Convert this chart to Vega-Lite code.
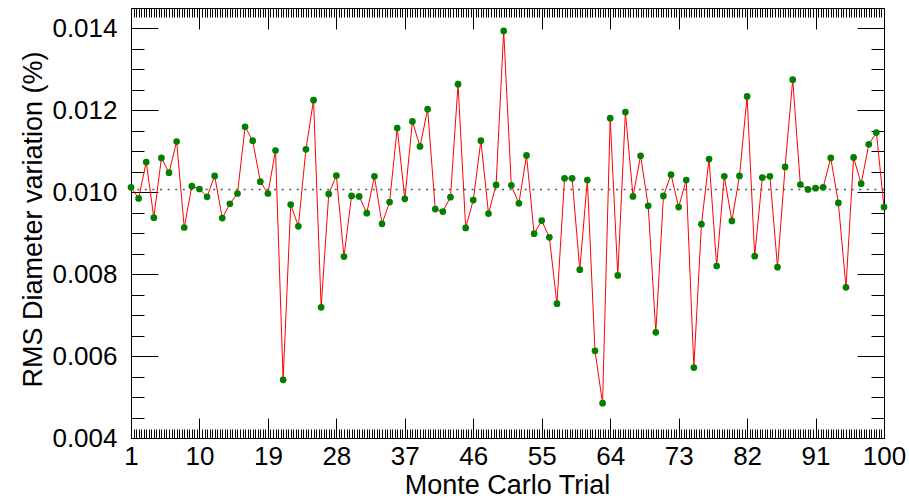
{
  "$schema": "https://vega.github.io/schema/vega-lite/v6.json",
  "width": 753,
  "height": 430,
  "autosize": {"type": "none"},
  "padding": {"left": 131, "top": 8, "right": 25, "bottom": 61},
  "background": "white",
  "config": {
    "view": {"stroke": "black", "strokeWidth": 1},
    "axis": {
      "grid": false,
      "domainColor": "black",
      "domainWidth": 1,
      "tickColor": "black",
      "tickWidth": 1,
      "labelFont": "Liberation Sans",
      "titleFont": "Liberation Sans",
      "labelColor": "black",
      "titleColor": "black",
      "labelFontSize": 26,
      "titleFontSize": 27,
      "titleFontWeight": "normal",
      "labelOverlap": false,
      "labelFlush": false,
      "labelBound": false
    }
  },
  "datasets": {
    "trials": [
      {"trial": 1, "rms": 0.01012}, {"trial": 2, "rms": 0.00985}, {"trial": 3, "rms": 0.01074}, {"trial": 4, "rms": 0.00938}, {"trial": 5, "rms": 0.01084},
      {"trial": 6, "rms": 0.01048}, {"trial": 7, "rms": 0.01124}, {"trial": 8, "rms": 0.00914}, {"trial": 9, "rms": 0.01015}, {"trial": 10, "rms": 0.01008},
      {"trial": 11, "rms": 0.00989}, {"trial": 12, "rms": 0.01040}, {"trial": 13, "rms": 0.00937}, {"trial": 14, "rms": 0.00972}, {"trial": 15, "rms": 0.00997},
      {"trial": 16, "rms": 0.01160}, {"trial": 17, "rms": 0.01126}, {"trial": 18, "rms": 0.01026}, {"trial": 19, "rms": 0.00997}, {"trial": 20, "rms": 0.01102},
      {"trial": 21, "rms": 0.00542}, {"trial": 22, "rms": 0.00970}, {"trial": 23, "rms": 0.00917}, {"trial": 24, "rms": 0.01105}, {"trial": 25, "rms": 0.01225},
      {"trial": 26, "rms": 0.00719}, {"trial": 27, "rms": 0.00996}, {"trial": 28, "rms": 0.01041}, {"trial": 29, "rms": 0.00843}, {"trial": 30, "rms": 0.00991},
      {"trial": 31, "rms": 0.00990}, {"trial": 32, "rms": 0.00949}, {"trial": 33, "rms": 0.01039}, {"trial": 34, "rms": 0.00923}, {"trial": 35, "rms": 0.00976},
      {"trial": 36, "rms": 0.01157}, {"trial": 37, "rms": 0.00984}, {"trial": 38, "rms": 0.01173}, {"trial": 39, "rms": 0.01112}, {"trial": 40, "rms": 0.01203},
      {"trial": 41, "rms": 0.00959}, {"trial": 42, "rms": 0.00953}, {"trial": 43, "rms": 0.00988}, {"trial": 44, "rms": 0.01264}, {"trial": 45, "rms": 0.00913},
      {"trial": 46, "rms": 0.00981}, {"trial": 47, "rms": 0.01126}, {"trial": 48, "rms": 0.00948}, {"trial": 49, "rms": 0.01018}, {"trial": 50, "rms": 0.01394},
      {"trial": 51, "rms": 0.01017}, {"trial": 52, "rms": 0.00973}, {"trial": 53, "rms": 0.01090}, {"trial": 54, "rms": 0.00899}, {"trial": 55, "rms": 0.00931},
      {"trial": 56, "rms": 0.00890}, {"trial": 57, "rms": 0.00728}, {"trial": 58, "rms": 0.01034}, {"trial": 59, "rms": 0.01034}, {"trial": 60, "rms": 0.00811},
      {"trial": 61, "rms": 0.01030}, {"trial": 62, "rms": 0.00613}, {"trial": 63, "rms": 0.00485}, {"trial": 64, "rms": 0.01181}, {"trial": 65, "rms": 0.00797},
      {"trial": 66, "rms": 0.01196}, {"trial": 67, "rms": 0.00990}, {"trial": 68, "rms": 0.01089}, {"trial": 69, "rms": 0.00967}, {"trial": 70, "rms": 0.00658},
      {"trial": 71, "rms": 0.00991}, {"trial": 72, "rms": 0.01043}, {"trial": 73, "rms": 0.00964}, {"trial": 74, "rms": 0.01030}, {"trial": 75, "rms": 0.00572},
      {"trial": 76, "rms": 0.00922}, {"trial": 77, "rms": 0.01081}, {"trial": 78, "rms": 0.00820}, {"trial": 79, "rms": 0.01039}, {"trial": 80, "rms": 0.00930},
      {"trial": 81, "rms": 0.01040}, {"trial": 82, "rms": 0.01234}, {"trial": 83, "rms": 0.00844}, {"trial": 84, "rms": 0.01036}, {"trial": 85, "rms": 0.01039},
      {"trial": 86, "rms": 0.00817}, {"trial": 87, "rms": 0.01062}, {"trial": 88, "rms": 0.01275}, {"trial": 89, "rms": 0.01019}, {"trial": 90, "rms": 0.01007},
      {"trial": 91, "rms": 0.01010}, {"trial": 92, "rms": 0.01012}, {"trial": 93, "rms": 0.01084}, {"trial": 94, "rms": 0.00974}, {"trial": 95, "rms": 0.00768},
      {"trial": 96, "rms": 0.01085}, {"trial": 97, "rms": 0.01021}, {"trial": 98, "rms": 0.01117}, {"trial": 99, "rms": 0.01146}, {"trial": 100, "rms": 0.00964}
    ],
    "reference": [{"mean": 0.01007}]
  },
  "layer": [
    {
      "data": {"name": "reference"},
      "mark": {"type": "rule", "color": "#555555", "strokeWidth": 1.5, "strokeDash": [2, 5.6]},
      "encoding": {
        "y": {"field": "mean", "type": "quantitative", "axis": null,
              "scale": {"domain": [0.004, 0.0145], "nice": false, "zero": false}}
      }
    },
    {
      "data": {"name": "trials"},
      "mark": {"type": "line", "color": "#ff0000", "strokeWidth": 1},
      "encoding": {
        "x": {
          "field": "trial", "type": "quantitative",
          "scale": {"domain": [1, 100], "nice": false, "zero": false},
          "axis": {
            "orient": "bottom",
            "values": [1,1.333,1.667,2,2.333,2.667,3,3.333,3.667,4,4.333,4.667,5,5.333,5.667,6,6.333,6.667,7,7.333,7.667,8,8.333,8.667,9,9.333,9.667,10,10.333,10.667,11,11.333,11.667,12,12.333,12.667,13,13.333,13.667,14,14.333,14.667,15,15.333,15.667,16,16.333,16.667,17,17.333,17.667,18,18.333,18.667,19,19.333,19.667,20,20.333,20.667,21,21.333,21.667,22,22.333,22.667,23,23.333,23.667,24,24.333,24.667,25,25.333,25.667,26,26.333,26.667,27,27.333,27.667,28,28.333,28.667,29,29.333,29.667,30,30.333,30.667,31,31.333,31.667,32,32.333,32.667,33,33.333,33.667,34,34.333,34.667,35,35.333,35.667,36,36.333,36.667,37,37.333,37.667,38,38.333,38.667,39,39.333,39.667,40,40.333,40.667,41,41.333,41.667,42,42.333,42.667,43,43.333,43.667,44,44.333,44.667,45,45.333,45.667,46,46.333,46.667,47,47.333,47.667,48,48.333,48.667,49,49.333,49.667,50,50.333,50.667,51,51.333,51.667,52,52.333,52.667,53,53.333,53.667,54,54.333,54.667,55,55.333,55.667,56,56.333,56.667,57,57.333,57.667,58,58.333,58.667,59,59.333,59.667,60,60.333,60.667,61,61.333,61.667,62,62.333,62.667,63,63.333,63.667,64,64.333,64.667,65,65.333,65.667,66,66.333,66.667,67,67.333,67.667,68,68.333,68.667,69,69.333,69.667,70,70.333,70.667,71,71.333,71.667,72,72.333,72.667,73,73.333,73.667,74,74.333,74.667,75,75.333,75.667,76,76.333,76.667,77,77.333,77.667,78,78.333,78.667,79,79.333,79.667,80,80.333,80.667,81,81.333,81.667,82,82.333,82.667,83,83.333,83.667,84,84.333,84.667,85,85.333,85.667,86,86.333,86.667,87,87.333,87.667,88,88.333,88.667,89,89.333,89.667,90,90.333,90.667,91,91.333,91.667,92,92.333,92.667,93,93.333,93.667,94,94.333,94.667,95,95.333,95.667,96,96.333,96.667,97,97.333,97.667,98,98.333,98.667,99,99.333,99.667,100],
            "tickSize": {"condition": {"test": "abs((datum.value - 1) / 9 - round((datum.value - 1) / 9)) < 0.001", "value": -20}, "value": -9},
            "labelExpr": "abs((datum.value - 1) / 9 - round((datum.value - 1) / 9)) < 0.001 ? format(datum.value, 'd') : ''",
            "labelPadding": 25,
            "title": "Monte Carlo Trial",
            "titleX": 376,
            "titleY": 55,
            "titleAlign": "center",
            "titleBaseline": "alphabetic"
          }
        },
        "y": {
          "field": "rms", "type": "quantitative",
          "scale": {"domain": [0.004, 0.0145], "nice": false, "zero": false},
          "axis": {
            "orient": "left",
            "values": [0.004,0.0045,0.005,0.0055,0.006,0.0065,0.007,0.0075,0.008,0.0085,0.009,0.0095,0.01,0.0105,0.011,0.0115,0.012,0.0125,0.013,0.0135,0.014,0.0145],
            "tickSize": {"condition": {"test": "abs(datum.value * 500 - round(datum.value * 500)) < 0.001", "value": -27}, "value": -13},
            "labelExpr": "abs(datum.value * 500 - round(datum.value * 500)) < 0.001 ? format(datum.value, '.3f') : ''",
            "labelPadding": 41,
            "title": "RMS Diameter variation (%)",
            "titleX": -90,
            "titleY": 211,
            "titleAngle": -90,
            "titleAlign": "center",
            "titleBaseline": "alphabetic"
          }
        }
      }
    },
    {
      "data": {"name": "trials"},
      "mark": {"type": "circle", "color": "#008000", "opacity": 1, "size": 45},
      "encoding": {
        "x": {
          "field": "trial", "type": "quantitative",
          "scale": {"domain": [1, 100], "nice": false, "zero": false},
          "axis": {
            "orient": "top",
            "values": [1,1.333,1.667,2,2.333,2.667,3,3.333,3.667,4,4.333,4.667,5,5.333,5.667,6,6.333,6.667,7,7.333,7.667,8,8.333,8.667,9,9.333,9.667,10,10.333,10.667,11,11.333,11.667,12,12.333,12.667,13,13.333,13.667,14,14.333,14.667,15,15.333,15.667,16,16.333,16.667,17,17.333,17.667,18,18.333,18.667,19,19.333,19.667,20,20.333,20.667,21,21.333,21.667,22,22.333,22.667,23,23.333,23.667,24,24.333,24.667,25,25.333,25.667,26,26.333,26.667,27,27.333,27.667,28,28.333,28.667,29,29.333,29.667,30,30.333,30.667,31,31.333,31.667,32,32.333,32.667,33,33.333,33.667,34,34.333,34.667,35,35.333,35.667,36,36.333,36.667,37,37.333,37.667,38,38.333,38.667,39,39.333,39.667,40,40.333,40.667,41,41.333,41.667,42,42.333,42.667,43,43.333,43.667,44,44.333,44.667,45,45.333,45.667,46,46.333,46.667,47,47.333,47.667,48,48.333,48.667,49,49.333,49.667,50,50.333,50.667,51,51.333,51.667,52,52.333,52.667,53,53.333,53.667,54,54.333,54.667,55,55.333,55.667,56,56.333,56.667,57,57.333,57.667,58,58.333,58.667,59,59.333,59.667,60,60.333,60.667,61,61.333,61.667,62,62.333,62.667,63,63.333,63.667,64,64.333,64.667,65,65.333,65.667,66,66.333,66.667,67,67.333,67.667,68,68.333,68.667,69,69.333,69.667,70,70.333,70.667,71,71.333,71.667,72,72.333,72.667,73,73.333,73.667,74,74.333,74.667,75,75.333,75.667,76,76.333,76.667,77,77.333,77.667,78,78.333,78.667,79,79.333,79.667,80,80.333,80.667,81,81.333,81.667,82,82.333,82.667,83,83.333,83.667,84,84.333,84.667,85,85.333,85.667,86,86.333,86.667,87,87.333,87.667,88,88.333,88.667,89,89.333,89.667,90,90.333,90.667,91,91.333,91.667,92,92.333,92.667,93,93.333,93.667,94,94.333,94.667,95,95.333,95.667,96,96.333,96.667,97,97.333,97.667,98,98.333,98.667,99,99.333,99.667,100],
            "tickSize": {"condition": {"test": "abs((datum.value - 1) / 9 - round((datum.value - 1) / 9)) < 0.001", "value": -21}, "value": -9},
            "labels": false,
            "title": null
          }
        },
        "y": {
          "field": "rms", "type": "quantitative",
          "scale": {"domain": [0.004, 0.0145], "nice": false, "zero": false},
          "axis": {
            "orient": "right",
            "values": [0.004,0.0045,0.005,0.0055,0.006,0.0065,0.007,0.0075,0.008,0.0085,0.009,0.0095,0.01,0.0105,0.011,0.0115,0.012,0.0125,0.013,0.0135,0.014,0.0145],
            "tickSize": {"condition": {"test": "abs(datum.value * 500 - round(datum.value * 500)) < 0.001", "value": -27}, "value": -13},
            "labels": false,
            "title": null
          }
        }
      }
    }
  ],
  "resolve": {"axis": {"x": "independent", "y": "independent"}}
}
